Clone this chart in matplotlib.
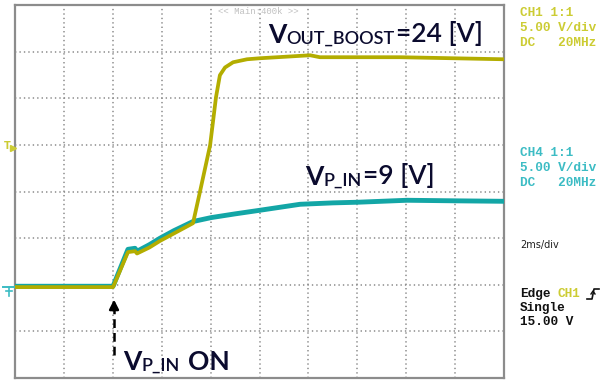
import matplotlib
matplotlib.use("Agg")
import matplotlib.pyplot as plt
from matplotlib.lines import Line2D
import numpy as np

W, H = 613, 380

# ---- data (time in ms, voltage in V) ----
vin_t = [0.0, 4.01, 4.62, 4.91, 4.99, 5.5, 5.93, 6.5, 7.28, 8.02, 9.0, 10.02,
         11.66, 13.0, 14.03, 16.03, 18.0, 20.0]
vin_v = [-0.16, -0.16, 3.8, 3.91, 3.59, 4.3, 4.99, 5.8, 6.78, 7.2, 7.6, 7.99,
         8.63, 8.78, 8.85, 9.06, 9.0, 8.95]

vout_t = [0.0, 4.01, 4.62, 4.91, 4.99, 5.5, 5.93, 6.5, 7.28, 7.57, 7.98, 8.22,
          8.38, 8.59, 8.92, 9.49, 10.02, 12.07, 12.47, 15.75, 20.0]
vout_v = [-0.25, -0.25, 3.5, 3.6, 3.35, 4.0, 4.7, 5.5, 6.6, 10.03, 14.96, 20.1,
          22.47, 23.3, 23.86, 24.18, 24.29, 24.61, 24.4, 24.4, 24.18]

t_on = 4.0
xlim = (0, 20)
ylim = (-10, 30)
x_div = 2.0   # ms/div
y_div = 5.0   # V/div

YEL = "#b3ad00"
CYN = "#13a6a6"
YEL_TXT = "#cccc33"
CYN_TXT = "#3cbcc4"
NAVY = "#0b0b2e"

fig = plt.figure(figsize=(W / 100, H / 100), dpi=100)
fig.patch.set_facecolor("white")
ax = fig.add_axes([15 / W, 2 / H, 489 / W, 373 / H])
ax.set_xlim(*xlim)
ax.set_ylim(*ylim)
ax.set_xticks([])
ax.set_yticks([])
for s in ax.spines.values():
    s.set_color("#8c8c8c")
    s.set_linewidth(1.6)

# grid
for gx in np.arange(xlim[0] + x_div, xlim[1], x_div):
    ax.axvline(gx, color="#8a8a8a", lw=1.1, ls=(0, (0.9, 2.0)), zorder=1)
for gy in np.arange(ylim[0] + y_div, ylim[1], y_div):
    ax.axhline(gy, color="#8a8a8a", lw=1.1, ls=(0, (0.9, 2.0)), zorder=1)

# traces
ax.plot(vin_t, vin_v, color=CYN, lw=3.5, solid_joinstyle="round", zorder=3)
ax.plot(vout_t, vout_v, color=YEL, lw=2.7, solid_joinstyle="round", zorder=4)

# dashed arrow at power-on instant
ax.plot([t_on + 0.05, t_on + 0.05], [-7.5, -2.3], color="black", lw=1.8,
        ls=(0, (3.5, 2)), zorder=5)
ax.annotate("", xy=(t_on + 0.05, -1.3), xytext=(t_on + 0.05, -3.0),
            arrowprops=dict(arrowstyle="-|>,head_length=0.55,head_width=0.28",
                            color="black", lw=1.8), zorder=5)


def fx(px):
    return px / W


def fy(py):
    return 1 - py / H


def label(x, y, main, sub, rest, size=19, subsize=13):
    t1 = fig.text(fx(x), fy(y), main, fontsize=size, color=NAVY,
                  family="Lato", fontweight="bold", va="baseline", ha="left")
    t2 = ax.annotate(sub, xy=(1, 0), xycoords=t1, fontsize=subsize,
                     color=NAVY, family="Lato", fontweight="semibold",
                     va="bottom", ha="left", annotation_clip=False)
    t3 = ax.annotate(rest, xy=(1, 0), xycoords=t2, xytext=(1, 0),
                     textcoords="offset points", fontsize=size, color=NAVY,
                     family="Lato", fontweight="semibold", va="bottom",
                     ha="left", annotation_clip=False)
    return t1, t2, t3


label(268, 43, "V", "OUT_BOOST", "=24 [V]")
label(305, 185, "V", "P_IN", "=9 [V]")
t1 = fig.text(fx(123), fy(370), "V", fontsize=19, color=NAVY, family="Lato",
              fontweight="bold", va="baseline", ha="left")
t2 = ax.annotate("P_IN", xy=(1, 0), xycoords=t1, fontsize=13, color=NAVY,
                 family="Lato", fontweight="semibold", va="bottom", ha="left",
                 annotation_clip=False)
ax.annotate("ON", xy=(1, 0), xycoords=t2, xytext=(6, 0),
            textcoords="offset points", fontsize=19, color=NAVY,
            family="Lato", fontweight="bold", va="bottom", ha="left",
            annotation_clip=False)

# top status text
fig.text(fx(218), fy(12), "<< Main:400k >>", fontsize=6.5, color="#c0c0c0",
         family="Liberation Mono", va="center", ha="left")

# right panel
mono = dict(family="Liberation Mono", fontweight="bold", fontsize=9.2,
            va="center", ha="left")
for i, s in enumerate(["CH1 1:1", "5.00 V/div", "DC   20MHz"]):
    fig.text(fx(520), fy(13 + 15 * i), s, color=YEL_TXT, **mono)
for i, s in enumerate(["CH4 1:1", "5.00 V/div", "DC   20MHz"]):
    fig.text(fx(520), fy(153 + 15 * i), s, color=CYN_TXT, **mono)

fig.text(fx(520), fy(245), "2ms/div", fontsize=7, color="#202020",
         family="Liberation Sans Narrow", va="center", ha="left")

fig.text(fx(520), fy(294), "Edge", color="#111111", **mono)
fig.text(fx(558), fy(294), "CH1", color=YEL_TXT, **mono)
fig.text(fx(520), fy(308), "Single", color="#111111", **mono)
fig.text(fx(520), fy(322), "15.00 V", color="#111111", **mono)

# trigger edge glyph
edge_x = [587, 592, 594, 599]
edge_y = [299, 299, 289, 289]
fig.add_artist(Line2D([fx(v) for v in edge_x], [fy(v) for v in edge_y],
                      color="#111111", lw=1.2))
fig.add_artist(Line2D([fx(591), fx(593), fx(595)], [fy(294), fy(291), fy(294)],
                      color="#111111", lw=1.0))

# left markers
fig.text(fx(4), fy(146), "T", fontsize=7, color=YEL_TXT, family="DejaVu Sans",
         fontweight="bold", va="center", ha="left")
fig.add_artist(Line2D([fx(13)], [fy(148)], marker=">", markersize=4,
                      color=YEL_TXT, lw=0))
fig.add_artist(Line2D([fx(3), fx(14)], [fy(287), fy(287)], color=CYN_TXT,
                      lw=1.4))
fig.add_artist(Line2D([fx(9), fx(9)], [fy(287), fy(296)], color=CYN_TXT,
                      lw=1.2))
fig.add_artist(Line2D([fx(6), fx(12)], [fy(291), fy(291)], color=CYN_TXT,
                      lw=1.2))

fig.savefig("out.png", dpi=100, facecolor="white")
